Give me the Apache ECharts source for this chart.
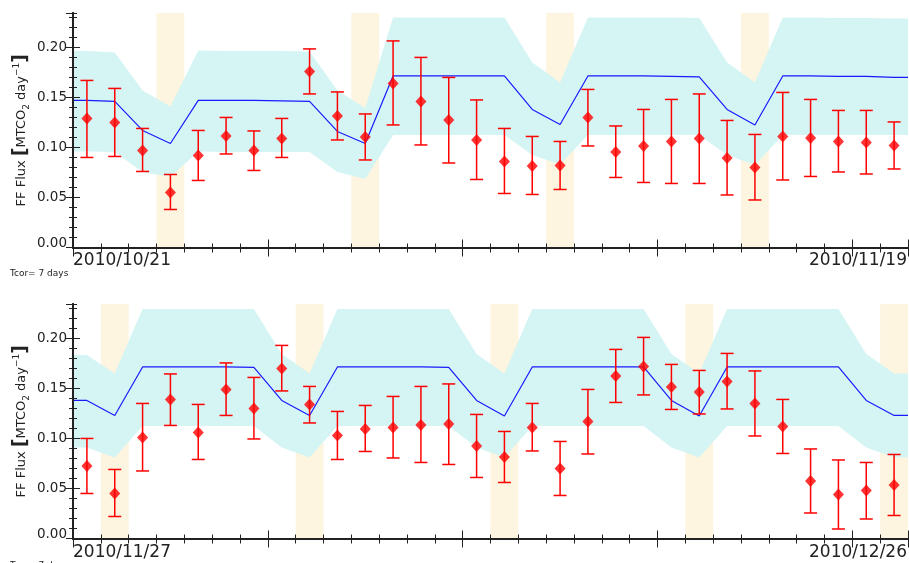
<!DOCTYPE html>
<html>
<head>
    <meta http-equiv="content-type" content="text/html;charset=utf-8" />
    <title>FF Flux</title>
    <script src="https://cdn.jsdelivr.net/npm/echarts@6/dist/echarts.min.js"></script>
    <style type="text/css">
        * {
            margin: 0;
            padding: 0
        }

        html, body {
            background: #fff;
        }

        #chart {
            width: 909px;
            height: 563px;
        }
    </style>
</head>
<body>
<div id="chart"></div>
<script>
    // ---- data ----
    var dateLabels1 = ["2010/10/21", "2010/11/19"];
    var dateLabels2 = ["2010/11/27", "2010/12/26"];
    var tcorText = "Tcor= 7 days";
    var yTicks = [0, 0.05, 0.10, 0.15, 0.20];

    // sundays (day index, shaded 1 day wide)
    var sundays1 = [3, 10, 17, 24];
    var sundays2 = [1, 8, 15, 22, 29];

    // panel 1 : 2010/10/21 .. 2010/11/19
    var flux1 = [0.129, 0.125, 0.097, 0.055, 0.092, 0.1115, 0.097, 0.109, 0.176, 0.1315,
        0.1105, 0.164, 0.146, 0.1275, 0.1075, 0.086, 0.0815, 0.082, 0.130, 0.0955,
        0.1015, 0.106, 0.109, 0.0895, 0.080, 0.111, 0.1095, 0.106, 0.105, 0.102];
    var fluxHi1 = [0.167, 0.159, 0.119, 0.073, 0.117, 0.130, 0.1165, 0.129, 0.1985, 0.1555,
        0.1335, 0.2065, 0.190, 0.170, 0.1475, 0.119, 0.111, 0.106, 0.158, 0.1215,
        0.138, 0.148, 0.1535, 0.127, 0.113, 0.155, 0.148, 0.137, 0.137, 0.1255];
    var fluxLo1 = [0.090, 0.091, 0.076, 0.038, 0.067, 0.0935, 0.077, 0.090, 0.1535, 0.1075,
        0.0875, 0.1225, 0.1025, 0.0845, 0.068, 0.054, 0.053, 0.058, 0.1015, 0.070,
        0.065, 0.064, 0.064, 0.0525, 0.0475, 0.0675, 0.071, 0.0755, 0.0735, 0.0785];
    var model1 = [0.147, 0.146, 0.117, 0.104, 0.147, 0.147, 0.147, 0.1465, 0.146, 0.116,
        0.104, 0.1715, 0.1715, 0.1715, 0.1715, 0.1715, 0.138, 0.123, 0.1715, 0.1715,
        0.1715, 0.171, 0.1705, 0.138, 0.1225, 0.1715, 0.1715, 0.171, 0.171, 0.170];
    var modelHi1 = [0.1965, 0.195, 0.157, 0.141, 0.197, 0.1965, 0.1965, 0.1965, 0.196, 0.157,
        0.1395, 0.230, 0.230, 0.230, 0.230, 0.230, 0.185, 0.165, 0.230, 0.230,
        0.230, 0.230, 0.2295, 0.185, 0.165, 0.230, 0.230, 0.2295, 0.2295, 0.229];
    var modelLo1 = [0.096, 0.0955, 0.0755, 0.0705, 0.096, 0.0955, 0.0955, 0.0955, 0.0955, 0.0755,
        0.0685, 0.1125, 0.1125, 0.1125, 0.1125, 0.1125, 0.0925, 0.083, 0.1125, 0.1125,
        0.1125, 0.1125, 0.1125, 0.0925, 0.0825, 0.1125, 0.1125, 0.1125, 0.1125, 0.1125];

    // panel 2 : 2010/11/27 .. 2010/12/26
    var flux2 = [0.0725, 0.045, 0.101, 0.139, 0.106, 0.149, 0.130, 0.170, 0.134, 0.103,
        0.1095, 0.111, 0.1135, 0.1145, 0.0925, 0.0815, 0.111, 0.070, 0.117, 0.1625,
        0.172, 0.1515, 0.1465, 0.157, 0.135, 0.112, 0.0575, 0.044, 0.048, 0.0535];
    var fluxHi2 = [0.100, 0.069, 0.135, 0.1645, 0.134, 0.1755, 0.161, 0.193, 0.152, 0.127,
        0.133, 0.142, 0.152, 0.1545, 0.124, 0.107, 0.135, 0.097, 0.149, 0.189,
        0.201, 0.174, 0.168, 0.185, 0.1675, 0.139, 0.0895, 0.0785, 0.076, 0.084];
    var fluxLo2 = [0.045, 0.022, 0.0675, 0.113, 0.079, 0.123, 0.0995, 0.1475, 0.1155, 0.079,
        0.087, 0.0805, 0.076, 0.074, 0.061, 0.056, 0.0875, 0.043, 0.0845, 0.136,
        0.1435, 0.129, 0.1245, 0.1295, 0.1025, 0.085, 0.0255, 0.0095, 0.0195, 0.023];
    var model2 = [0.138, 0.123, 0.1715, 0.1715, 0.1715, 0.1715, 0.171, 0.138, 0.123, 0.1715,
        0.1715, 0.1715, 0.1715, 0.171, 0.138, 0.1225, 0.1715, 0.1715, 0.1715, 0.1715,
        0.1715, 0.138, 0.1225, 0.1715, 0.1715, 0.1715, 0.1715, 0.1715, 0.138, 0.123];
    var modelHi2 = [0.1835, 0.165, 0.2295, 0.2295, 0.2295, 0.2295, 0.2295, 0.1845, 0.165, 0.2295,
        0.2295, 0.2295, 0.2295, 0.2295, 0.1845, 0.165, 0.2295, 0.2295, 0.2295, 0.2295,
        0.2295, 0.1845, 0.165, 0.2295, 0.2295, 0.2295, 0.2295, 0.2295, 0.1845, 0.165];
    var modelLo2 = [0.091, 0.081, 0.1125, 0.1125, 0.1125, 0.1125, 0.1125, 0.091, 0.081, 0.1125,
        0.1125, 0.1125, 0.1125, 0.1125, 0.091, 0.081, 0.1125, 0.1125, 0.1125, 0.1125,
        0.1125, 0.091, 0.081, 0.1125, 0.1125, 0.1125, 0.1125, 0.1125, 0.091, 0.081];

    var nDays = 30;
    var yMax = 0.2344;

    var cyan = '#d4f5f3';
    var cream = '#fdf5df';
    var frameColor = '#222';
    var font = 'DejaVu Sans';

    var chart = echarts.init(document.getElementById('chart'));

    //每天的中点
    function pts(vals) {
        var out = [];
        for (var i = 0; i < vals.length; i++) {
            out.push([i + 0.5, vals[i]]);
        }
        return out;
    }

    // model is drawn out to the frame edges
    function modelPts(vals) {
        var out = [[0, vals[0]]].concat(pts(vals));
        out.push([nDays, vals[vals.length - 1]]);
        return out;
    }

    function errData(lo, hi) {
        var out = [];
        for (var i = 0; i < lo.length; i++) {
            out.push([i + 0.5, lo[i], hi[i]]);
        }
        return out;
    }

    function renderErr(params, api) {
        var x = api.value(0);
        var a = api.coord([x, api.value(2)]);
        var b = api.coord([x, api.value(1)]);
        var w = 6.5;
        var st = { stroke: '#ff0000', lineWidth: 1.5 };
        return {
            type: 'group',
            children: [
                { type: 'line', shape: { x1: a[0], y1: a[1], x2: b[0], y2: b[1] }, style: st },
                { type: 'line', shape: { x1: a[0] - w, y1: a[1], x2: a[0] + w, y2: a[1] }, style: st },
                { type: 'line', shape: { x1: b[0] - w, y1: b[1], x2: b[0] + w, y2: b[1] }, style: st }
            ]
        };
    }

    function renderBand(up, lo) {
        return function (params, api) {
            var u = modelPts(up), l = modelPts(lo);
            var points = [];
            for (var i = 0; i < u.length; i++) points.push(api.coord(u[i]));
            for (var j = l.length - 1; j >= 0; j--) points.push(api.coord(l[j]));
            return { type: 'polygon', shape: { points: points }, style: { fill: cyan } };
        };
    }

    function renderSunday(params, api) {
        var d = api.value(0);
        var p0 = api.coord([d, yMax]);
        var p1 = api.coord([d + 1, 0]);
        return {
            type: 'rect',
            shape: { x: p0[0], y: p0[1], width: p1[0] - p0[0], height: p1[1] - p0[1] },
            style: { fill: cream }
        };
    }

    function xAxes(g) {
        var base = {
            type: 'value', gridIndex: g, min: 0, max: nDays, z: 10,
            splitLine: { show: false }, axisLabel: { show: false }
        };
        var line = { show: true, lineStyle: { color: frameColor, width: 2 } };
        return [
            Object.assign({}, base, { position: 'bottom', interval: 1, axisLine: line,
                axisTick: { inside: true, length: 4, lineStyle: { color: frameColor } } }),
            Object.assign({}, base, { position: 'bottom', interval: 7, axisLine: { show: false },
                axisTick: { inside: true, length: 8, lineStyle: { color: frameColor } } }),
            Object.assign({}, base, { position: 'top', interval: 1, axisLine: line,
                axisTick: { inside: true, length: 5, lineStyle: { color: frameColor } } }),
            Object.assign({}, base, { position: 'top', interval: 7, axisLine: { show: false },
                axisTick: { inside: true, length: 9, lineStyle: { color: frameColor } } })
        ];
    }

    function yAxes(g) {
        var base = {
            type: 'value', gridIndex: g, min: 0, max: yMax, z: 10,
            splitLine: { show: false }, axisLabel: { show: false }
        };
        var line = { show: true, lineStyle: { color: frameColor, width: 2 } };
        return [
            Object.assign({}, base, {
                position: 'left', interval: 0.05, axisLine: line,
                axisTick: { inside: true, length: 7, lineStyle: { color: frameColor } },
                axisLabel: {
                    show: true, margin: 6, showMaxLabel: false,
                    fontFamily: font, fontSize: 13.5, color: '#222',
                    formatter: function (v) {
                        if (yTicks.indexOf(Math.round(v * 100) / 100) < 0) return '';
                        return v === 0 ? '{z|0.00}' : v.toFixed(2);
                    },
                    rich: { z: { fontFamily: font, fontSize: 13.5, color: '#222', padding: [0, 0, 8, 0] } }
                },
                name: '{t|FF Flux }{b|[}{t|MTCO}{s|2}{t| day}{p|\u22121}{b|]}',
                nameLocation: 'middle', nameRotate: 90, nameGap: 42, nameMoveOverlap: false,
                nameTextStyle: {
                    rich: {
                        t: { fontFamily: font, fontSize: 13, color: '#222' },
                        b: { fontFamily: font, fontSize: 19, color: '#222', fontWeight: 'bold' },
                        s: { fontFamily: font, fontSize: 9, color: '#222', verticalAlign: 'bottom' },
                        p: { fontFamily: font, fontSize: 9, color: '#222', verticalAlign: 'top' }
                    }
                }
            }),
            Object.assign({}, base, { position: 'left', interval: 0.01, axisLine: { show: false },
                axisTick: { inside: true, length: 4, lineStyle: { color: frameColor } } }),
            Object.assign({}, base, { position: 'right', interval: 0.05, axisLine: line,
                axisTick: { inside: true, length: 7, lineStyle: { color: frameColor } } }),
            Object.assign({}, base, { position: 'right', interval: 0.01, axisLine: { show: false },
                axisTick: { inside: true, length: 4, lineStyle: { color: frameColor } } })
        ];
    }

    function panelSeries(g, sundays, flux, hi, lo, model, mHi, mLo) {
        var ax = { xAxisIndex: g * 4, yAxisIndex: g * 4 };
        var sun = [];
        for (var i = 0; i < sundays.length; i++) sun.push([sundays[i], 0]);
        return [
            Object.assign({ type: 'custom', z: 1, renderItem: renderSunday, data: sun, encode: { x: 0, y: 1 } }, ax),
            Object.assign({ type: 'custom', z: 2, renderItem: renderBand(mHi, mLo), data: [[0, 0]], encode: { x: 0, y: 1 } }, ax),
            Object.assign({
                type: 'line', z: 3, data: modelPts(model), symbol: 'none',
                lineStyle: { color: '#1a1aff', width: 1.2 }
            }, ax),
            Object.assign({ type: 'custom', z: 4, renderItem: renderErr, data: errData(lo, hi), encode: { x: 0, y: [1, 2] } }, ax),
            Object.assign({
                type: 'scatter', z: 5, data: pts(flux), symbol: 'diamond', symbolSize: [11, 12],
                itemStyle: { color: '#ff0000' }
            }, ax)
        ];
    }

    function txt(x, y, s, size, align, vAlign) {
        return {
            type: 'text', x: x, y: y, z: 20,
            style: { text: s, fill: '#222', font: size + 'px "' + font + '"', textAlign: align, textVerticalAlign: vAlign }
        };
    }

    var option = {
        animation: false,
        backgroundColor: '#fff',
        grid: [
            { left: 73, top: 13, width: 835, height: 234.5 },
            { left: 73, top: 304, width: 835, height: 234.5 }
        ],
        xAxis: xAxes(0).concat(xAxes(1)),
        yAxis: yAxes(0).concat(yAxes(1)),
        series: panelSeries(0, sundays1, flux1, fluxHi1, fluxLo1, model1, modelHi1, modelLo1)
            .concat(panelSeries(1, sundays2, flux2, fluxHi2, fluxLo2, model2, modelHi2, modelLo2)),
        graphic: [
            txt(73, 261, dateLabels1[0], 17, 'left', 'middle'),
            txt(907, 261, dateLabels1[1], 17, 'right', 'middle'),
            txt(73, 553, dateLabels2[0], 17, 'left', 'middle'),
            txt(907, 553, dateLabels2[1], 17, 'right', 'middle'),
            txt(10, 269, tcorText, 9, 'left', 'alphabetic'),
            txt(10, 561, tcorText, 9, 'left', 'alphabetic')
        ]
    };
    chart.setOption(option);
</script>
</body>
</html>
